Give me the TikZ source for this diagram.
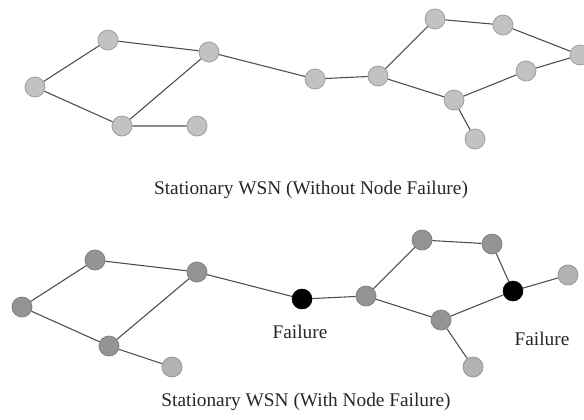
\documentclass[tikz,border=0pt]{standalone}
\usepackage{fontspec}
\setmainfont{Liberation Serif}
\begin{document}
\begin{tikzpicture}[x=0.75pt,y=-0.75pt,
  sn/.style={circle,minimum size=15pt,inner sep=0pt,draw=black!38,fill=black!24,line width=0.6pt},
  dn/.style={circle,minimum size=15pt,inner sep=0pt,draw=black!50,fill=black!42,line width=0.6pt},
  ln/.style={circle,minimum size=15pt,inner sep=0pt,draw=black!42,fill=black!30,line width=0.6pt},
  fn/.style={circle,minimum size=15pt,inner sep=0pt,draw=black,fill=black},
  lk/.style={draw=black!70,line width=0.8pt},
  lbl/.style={font=\fontsize{14.5}{16}\selectfont,text=black!85,inner sep=0pt}]
\useasboundingbox (0,0) rectangle (584,419);
% top graph
\node[sn] (a1) at (35,87) {};
\node[sn] (a2) at (108,40) {};
\node[sn] (a3) at (209,52) {};
\node[sn] (a4) at (122,126) {};
\node[sn] (a5) at (197,126) {};
\node[sn] (b1) at (315,79) {};
\node[sn] (b2) at (378,76) {};
\node[sn] (b3) at (435,19) {};
\node[sn] (b4) at (503,25) {};
\node[sn] (b5) at (580,55) {};
\node[sn] (b6) at (526,71) {};
\node[sn] (b7) at (454,100) {};
\node[sn] (b8) at (475,139) {};
\begin{scope}[on background layer/.try]
\end{scope}
\draw[lk] (a1)--(a2) (a2)--(a3) (a1)--(a4) (a4)--(a3) (a4)--(a5) (a3)--(b1)
  (b1)--(b2) (b2)--(b3) (b3)--(b4) (b4)--(b5) (b5)--(b6) (b6)--(b7) (b2)--(b7) (b7)--(b8);
\node[lbl] (cap1) at (311,190) {Stationary WSN (Without Node Failure)};
% bottom graph
\node[dn] (c1) at (22,307) {};
\node[dn] (c2) at (95,260) {};
\node[dn] (c3) at (197,272) {};
\node[dn] (c4) at (109,346) {};
\node[ln] (c5) at (172,367) {};
\node[fn] (f1) at (302,299) {};
\node[dn] (d2) at (366,296) {};
\node[dn] (d3) at (422,240) {};
\node[dn] (d4) at (492,244) {};
\node[fn] (f2) at (513,291) {};
\node[ln] (d6) at (568,275) {};
\node[dn] (d7) at (441,320) {};
\node[ln] (d8) at (473,367) {};
\draw[lk] (c1)--(c2) (c2)--(c3) (c1)--(c4) (c4)--(c3) (c4)--(c5) (c3)--(f1)
  (f1)--(d2) (d2)--(d3) (d3)--(d4) (d4)--(f2) (f2)--(d6) (f2)--(d7) (d2)--(d7) (d7)--(d8);
\node[lbl] (fl1) at (300,332) {Failure};
\node[lbl] (fl2) at (542,339) {Failure};
\node[lbl] (cap2) at (306,402) {Stationary WSN (With Node Failure)};
\end{tikzpicture}
\end{document}
